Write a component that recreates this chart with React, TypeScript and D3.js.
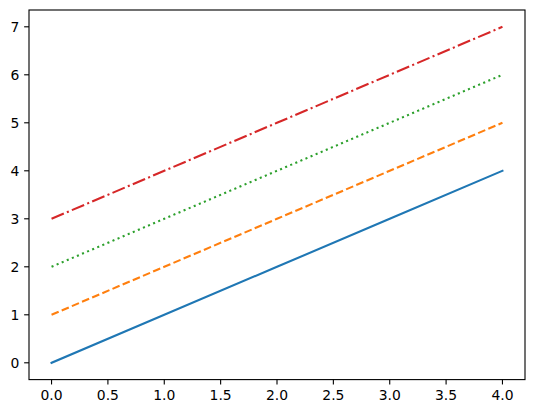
import React from "react";
import * as d3 from "d3";

const xValues = [0, 1, 2, 3, 4];
const solidSeries = [0, 1, 2, 3, 4];
const dashedSeries = [1, 2, 3, 4, 5];
const dottedSeries = [2, 3, 4, 5, 6];
const dashdotSeries = [3, 4, 5, 6, 7];
const xTicks = [0, 0.5, 1, 1.5, 2, 2.5, 3, 3.5, 4];
const yTicks = [0, 1, 2, 3, 4, 5, 6, 7];

const LW = 2.083;
const seriesList = [
  { values: solidSeries, color: "#1f77b4", dash: "none", cap: "square" },
  { values: dashedSeries, color: "#ff7f0e", dash: `${3.7 * LW},${1.6 * LW}`, cap: "butt" },
  { values: dottedSeries, color: "#2ca02c", dash: `${1 * LW},${1.65 * LW}`, cap: "butt" },
  { values: dashdotSeries, color: "#d62728", dash: `${6.4 * LW},${1.6 * LW},${1 * LW},${1.6 * LW}`, cap: "butt" },
];

export default function App() {
  const W = 534, H = 413;
  const left = 29, top = 10, width = 496, height = 369.6;
  const x = d3.scaleLinear().domain([-0.2, 4.2]).range([left, left + width]);
  const y = d3.scaleLinear().domain([-0.35, 7.35]).range([top + height, top]);
  const line = d3.line<number>().x((_, i) => x(xValues[i])).y((d) => y(d));
  const font = "'DejaVu Sans', sans-serif";
  const tl = 4.86;
  return (
    <svg width={W} height={H} style={{ position: "absolute", left: 0, top: 0 }}>
      <rect width={W} height={H} fill="white" />
      {seriesList.map((s, i) => (
        <path key={i} d={line(s.values) || ""} fill="none" stroke={s.color}
          strokeWidth={LW} strokeDasharray={s.dash} strokeLinecap={s.cap as any} strokeLinejoin="round" />
      ))}
      <rect x={left} y={top} width={width} height={height} fill="none" stroke="black" strokeWidth={1.11} />
      {xTicks.map((t) => (
        <g key={t}>
          <line x1={x(t)} x2={x(t)} y1={top + height} y2={top + height + tl} stroke="black" strokeWidth={1.11} />
          <text x={x(t)} y={top + height + tl + 4.86 + 10.6} textAnchor="middle" fontFamily={font} fontSize={13.9} fill="black">
            {t.toFixed(1)}
          </text>
        </g>
      ))}
      {yTicks.map((t) => (
        <g key={t}>
          <line x1={left - tl} x2={left} y1={y(t)} y2={y(t)} stroke="black" strokeWidth={1.11} />
          <text x={left - tl - 4.86} y={y(t)} dy="0.36em" textAnchor="end" fontFamily={font} fontSize={13.9} fill="black">
            {t}
          </text>
        </g>
      ))}
    </svg>
  );
}
